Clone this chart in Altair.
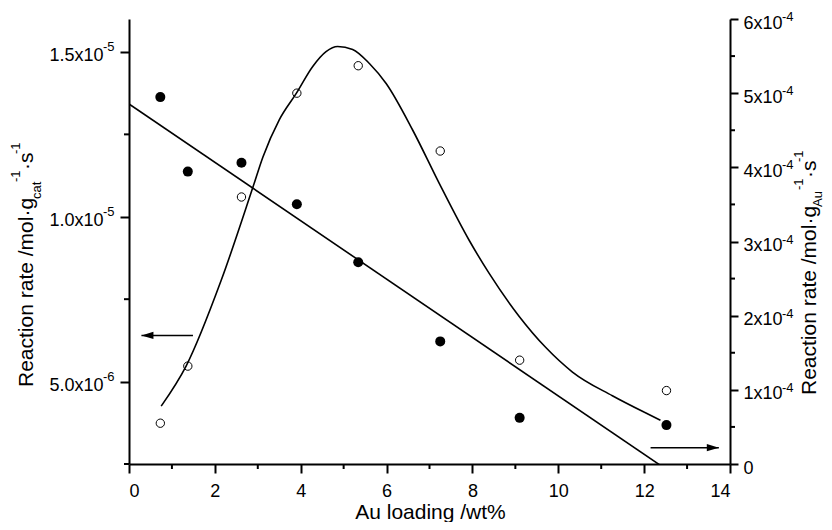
import altair as alt
import pandas as pd

# ---------------- data ----------------
loading = [0.73, 1.37, 2.62, 3.91, 5.34, 7.25, 9.10, 12.52]
rate_cat = [1.363e-5, 1.137e-5, 1.164e-5, 1.038e-5, 8.62e-6, 6.22e-6, 3.90e-6, 3.68e-6]
rate_au = [5.5e-5, 1.32e-4, 3.60e-4, 5.00e-4, 5.37e-4, 4.22e-4, 1.40e-4, 0.99e-4]

curve_x = [0.75, 1.33, 2.15, 2.88, 3.12, 3.50, 3.90, 4.28, 4.59, 4.86, 5.21, 5.60,
           5.99, 6.61, 7.23, 7.92, 8.39, 9.09, 9.71, 10.33, 11.26, 12.03, 12.38]
curve_y = [0.78e-4, 1.32e-4, 2.48e-4, 3.72e-4, 4.14e-4, 4.64e-4, 5.00e-4, 5.36e-4,
           5.56e-4, 5.63e-4, 5.59e-4, 5.40e-4, 5.13e-4, 4.50e-4, 3.78e-4, 3.02e-4,
           2.57e-4, 1.99e-4, 1.57e-4, 1.24e-4, 0.92e-4, 0.69e-4, 0.59e-4]

x_ticks = [0, 2, 4, 6, 8, 10, 12, 14]
x_minor = [1, 3, 5, 7, 9, 11, 13]
left_ticks = [5e-6, 1e-5, 1.5e-5]
left_labels = ["5.0x10", "1.0x10", "1.5x10"]
left_sups = ["-6", "-5", "-5"]
left_minor = [2.5e-6, 7.5e-6, 1.25e-5]
right_ticks = [0, 1e-4, 2e-4, 3e-4, 4e-4, 5e-4, 6e-4]
right_labels = ["0", "1x10", "2x10", "3x10", "4x10", "5x10", "6x10"]
right_sups = ["", "-4", "-4", "-4", "-4", "-4", "-4"]
right_minor = [0.5e-4, 1.5e-4, 2.5e-4, 3.5e-4, 4.5e-4, 5.5e-4]

left_arrow_x = [0.29, 1.49]
left_arrow_y = [6.4e-6, 6.4e-6]
right_arrow_x = [12.15, 13.74]
right_arrow_y = [2.2e-5, 2.2e-5]

x_title = "Au loading /wt%"
left_title = ["Reaction rate /mol·g", "cat", "-1", "·s", "-1"]
right_title = ["Reaction rate /mol·g", "Au", "-1", "·s", "-1"]

# ---------------- styling ----------------
FONT = "Liberation Sans"
W, H = 601, 445
TICK_FS = 18
SUP_FS = 13
TITLE_FS = 21
SMALL_FS = 13

def label_expr(ticks, labels, eps):
    expr = "'" + labels[-1] + "'"
    for t, l in reversed(list(zip(ticks[:-1], labels[:-1]))):
        expr = f"abs(datum.value - {t}) < {eps} ? '{l}' : ({expr})"
    return expr

xs = alt.Scale(domain=[0, 14], nice=False, zero=False)
yl = alt.Scale(domain=[2.5e-6, 1.6e-5], nice=False, zero=False)
yr = alt.Scale(domain=[0, 6e-4], nice=False, zero=False)

common_axis = dict(grid=False, domainColor="black", tickColor="black", labelColor="black",
                   domainWidth=2, tickWidth=2, labelFont=FONT, labelFontSize=TICK_FS, title=None)

x_axis = alt.Axis(values=x_ticks, format="d", tickSize=9, labelPadding=9, **common_axis)
left_axis = alt.Axis(values=left_ticks, orient="left",
                     labelExpr=label_expr(left_ticks, left_labels, 1e-8),
                     labelBaseline="alphabetic", labelOffset=9,
                     tickSize=9, labelPadding=17, **common_axis)
right_axis = alt.Axis(values=right_ticks, orient="right",
                      labelExpr=label_expr(right_ticks, right_labels, 1e-6),
                      labelBaseline="alphabetic", labelOffset=9,
                      tickSize=8, labelPadding=5, **common_axis)

def X(field):
    return alt.X(field, scale=xs, axis=x_axis)

def YL(field):
    return alt.Y(field, scale=yl, axis=left_axis)

def YR(field):
    return alt.Y(field, scale=yr, axis=right_axis)

pts = pd.DataFrame({"loading": loading, "rate_cat": rate_cat, "rate_au": rate_au})
curve = pd.DataFrame({"x": curve_x, "y": curve_y})

def seg(text, x, y, size, angle=270, align="left"):
    return alt.Chart(pd.DataFrame({"t": [text]})).mark_text(
        font=FONT, fontSize=size, angle=angle, align=align, baseline="alphabetic", color="black"
    ).encode(text="t:N", x=alt.value(x), y=alt.value(y))

# ---------------- left-axis group ----------------
filled = alt.Chart(pts).mark_point(shape="circle", filled=True, size=100, color="black", opacity=1).encode(
    x=X("loading:Q"), y=YL("rate_cat:Q"))
fit = alt.Chart(pts).transform_regression("loading", "rate_cat", extent=[0, 14]).mark_line(
    color="black", strokeWidth=1.6, clip=True).encode(x=X("loading:Q"), y=YL("rate_cat:Q"))
la = pd.DataFrame({"x": left_arrow_x, "y": left_arrow_y})
larrow_line = alt.Chart(la).mark_line(color="black", strokeWidth=1.6).encode(x=X("x:Q"), y=YL("y:Q"))
larrow_head = alt.Chart(la.iloc[[0]]).mark_point(
    shape="M0,0 L2,-0.6 L2,0.6 Z", size=144, filled=True, color="black", opacity=1).encode(
    x=X("x:Q"), y=YL("y:Q"))
lminor = alt.Chart(pd.DataFrame({"v": left_minor})).mark_rule(color="black", strokeWidth=2).encode(
    y=YL("v:Q"), x=alt.value(-5), x2=alt.value(0))
xminor = alt.Chart(pd.DataFrame({"v": x_minor})).mark_rule(color="black", strokeWidth=2).encode(
    x=X("v:Q"), y=alt.value(H), y2=alt.value(H + 5))
lsup = alt.Chart(pd.DataFrame({"v": left_ticks, "s": left_sups})).mark_text(
    font=FONT, fontSize=SUP_FS, align="left", baseline="alphabetic", color="black", dy=-1).encode(
    y=YL("v:Q"), x=alt.value(-26), text="s:N")

lt = [
    seg(left_title[0], -96, 368, TITLE_FS),
    seg(left_title[1], -88, 180, SMALL_FS),
    seg(left_title[2], -109, 163, SMALL_FS),
    seg(left_title[3], -96, 151, TITLE_FS),
    seg(left_title[4], -109, 135, SMALL_FS),
]
xt = seg(x_title, W / 2 + 1, 500, TITLE_FS, angle=0, align="center")

left_group = alt.layer(filled, fit, larrow_line, larrow_head, lminor, xminor, lsup, xt, *lt)

# ---------------- right-axis group ----------------
opened = alt.Chart(pts).mark_point(shape="circle", filled=False, size=70, color="black",
                                   strokeWidth=1, opacity=1).encode(x=X("loading:Q"), y=YR("rate_au:Q"))
curve_line = alt.Chart(curve).mark_line(color="black", strokeWidth=1.6, interpolate="monotone").encode(
    x=X("x:Q"), y=YR("y:Q"))
ra = pd.DataFrame({"x": right_arrow_x, "y": right_arrow_y})
rarrow_line = alt.Chart(ra).mark_line(color="black", strokeWidth=1.6).encode(x=X("x:Q"), y=YR("y:Q"))
rarrow_head = alt.Chart(ra.iloc[[1]]).mark_point(
    shape="M0,0 L-2,-0.6 L-2,0.6 Z", size=144, filled=True, color="black", opacity=1).encode(
    x=X("x:Q"), y=YR("y:Q"))
rminor = alt.Chart(pd.DataFrame({"v": right_minor})).mark_rule(color="black", strokeWidth=2).encode(
    y=YR("v:Q"), x=alt.value(W), x2=alt.value(W + 5))
rsup = alt.Chart(pd.DataFrame({"v": right_ticks, "s": right_sups})).mark_text(
    font=FONT, fontSize=SUP_FS, align="left", baseline="alphabetic", color="black", dy=2).encode(
    y=YR("v:Q"), x=alt.value(W + 13 + 39), text="s:N")

rt = [
    seg(right_title[0], 687, 376, TITLE_FS),
    seg(right_title[1], 693, 188, SMALL_FS),
    seg(right_title[2], 674, 171, SMALL_FS),
    seg(right_title[3], 687, 159, TITLE_FS),
    seg(right_title[4], 674, 143, SMALL_FS),
]

right_group = alt.layer(opened, curve_line, rarrow_line, rarrow_head, rminor, rsup, *rt)

chart = alt.layer(left_group, right_group).resolve_scale(y="independent").properties(
    width=W, height=H,
    autosize=alt.AutoSizeParams(type="none"),
    padding={"left": 121, "top": 11, "right": 94, "bottom": 58},
    background="white",
).configure_view(stroke=None)

chart.save("out.html", embed_options={"renderer": "svg", "actions": False})
